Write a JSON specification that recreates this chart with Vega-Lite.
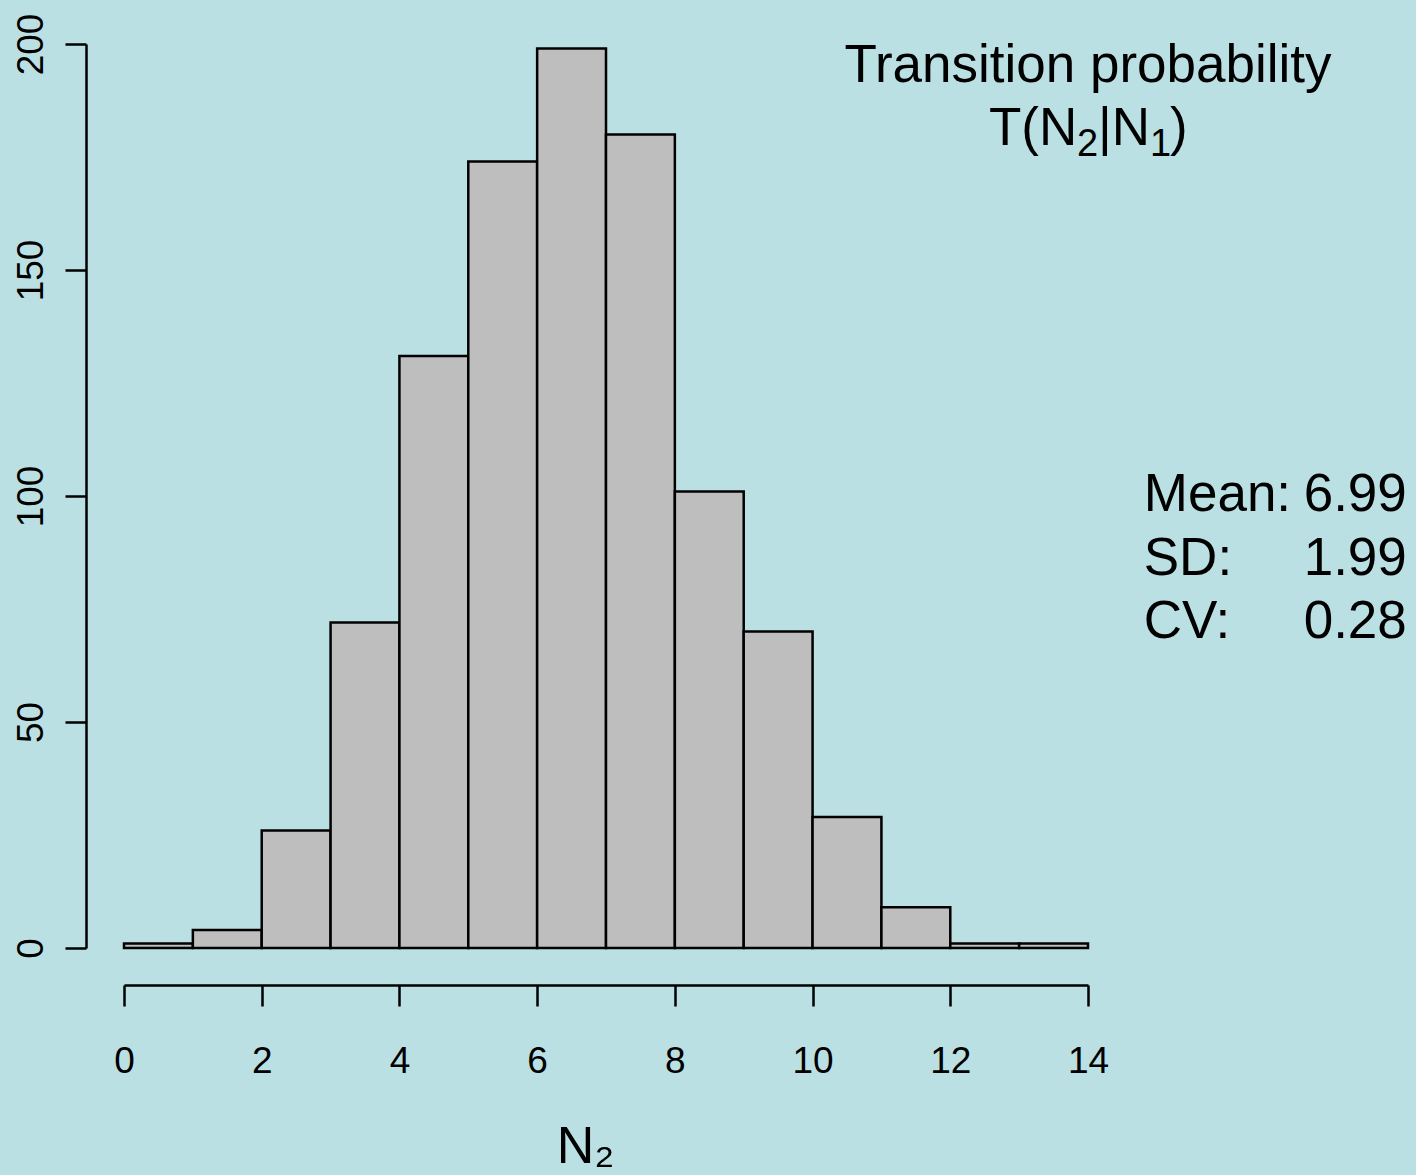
{
  "$schema": "https://vega.github.io/schema/vega-lite/v6.json",
  "width": 964,
  "height": 904,
  "autosize": "none",
  "padding": {"left": 124, "top": 44, "right": 328, "bottom": 227},
  "background": "#BAE0E4",
  "config": {
    "view": {"stroke": null},
    "font": "Liberation Sans",
    "axis": {
      "grid": false,
      "domainColor": "black",
      "domainWidth": 2.5,
      "tickColor": "black",
      "tickWidth": 2.5,
      "tickSize": 21,
      "labelColor": "black",
      "labelFont": "Liberation Sans",
      "labelFontSize": 37,
      "labelOverlap": false,
      "labelFlush": false,
      "titleColor": "black",
      "titleFont": "Liberation Sans",
      "titleFontWeight": "normal"
    },
    "text": {"font": "Liberation Sans", "color": "black"}
  },
  "datasets": {
    "bins": [
      {"lo": 0, "hi": 1, "count": 1},
      {"lo": 1, "hi": 2, "count": 4},
      {"lo": 2, "hi": 3, "count": 26},
      {"lo": 3, "hi": 4, "count": 72},
      {"lo": 4, "hi": 5, "count": 131},
      {"lo": 5, "hi": 6, "count": 174},
      {"lo": 6, "hi": 7, "count": 199},
      {"lo": 7, "hi": 8, "count": 180},
      {"lo": 8, "hi": 9, "count": 101},
      {"lo": 9, "hi": 10, "count": 70},
      {"lo": 10, "hi": 11, "count": 29},
      {"lo": 11, "hi": 12, "count": 9},
      {"lo": 12, "hi": 13, "count": 1},
      {"lo": 13, "hi": 14, "count": 1}
    ],
    "heading": [
      {"part": "title", "text": "Transition probability"},
      {"part": "a", "text": "T(N"},
      {"part": "sub2", "text": "2"},
      {"part": "b", "text": "|N"},
      {"part": "sub1", "text": "1"},
      {"part": "c", "text": ")"}
    ],
    "stats": [
      {"stat": "Mean:", "value": "6.99"},
      {"stat": "SD:", "value": "1.99"},
      {"stat": "CV:", "value": "0.28"}
    ]
  },
  "layer": [
    {
      "data": {"name": "bins"},
      "mark": {"type": "rect", "fill": "#BEBEBE", "stroke": "black", "strokeWidth": 2.5},
      "encoding": {
        "x": {
          "field": "lo",
          "type": "quantitative",
          "scale": {"domain": [0, 14], "nice": false, "zero": false},
          "axis": {
            "offset": 37,
            "values": [0, 2, 4, 6, 8, 10, 12, 14],
            "format": "d",
            "labelBaseline": "alphabetic",
            "labelPadding": 66,
            "title": "N₂",
            "titleFontSize": 52,
            "titleX": 461,
            "titleY": 177,
            "titleAlign": "center",
            "titleBaseline": "alphabetic"
          }
        },
        "x2": {"field": "hi"},
        "y": {
          "field": "count",
          "type": "quantitative",
          "scale": {"domain": [0, 200], "nice": false},
          "axis": {
            "offset": 38,
            "values": [0, 50, 100, 150, 200],
            "labelAngle": 270,
            "labelAlign": "center",
            "labelBaseline": "alphabetic",
            "labelPadding": 23,
            "title": null
          }
        },
        "y2": {"datum": 0}
      }
    },
    {
      "data": {"name": "heading"},
      "transform": [{"filter": "datum.part == 'title'"}],
      "mark": {"type": "text", "fontSize": 53, "align": "center", "baseline": "alphabetic"},
      "encoding": {"x": {"datum": 14}, "y": {"datum": 191.6}, "text": {"field": "text"}}
    },
    {
      "data": {"name": "heading"},
      "transform": [{"filter": "datum.part == 'a'"}],
      "mark": {"type": "text", "fontSize": 53, "align": "left", "baseline": "alphabetic", "dx": -99},
      "encoding": {"x": {"datum": 14}, "y": {"datum": 177.7}, "text": {"field": "text"}}
    },
    {
      "data": {"name": "heading"},
      "transform": [{"filter": "datum.part == 'sub2'"}],
      "mark": {"type": "text", "fontSize": 38, "align": "left", "baseline": "alphabetic", "dx": -11, "dy": 11},
      "encoding": {"x": {"datum": 14}, "y": {"datum": 177.7}, "text": {"field": "text"}}
    },
    {
      "data": {"name": "heading"},
      "transform": [{"filter": "datum.part == 'b'"}],
      "mark": {"type": "text", "fontSize": 53, "align": "left", "baseline": "alphabetic", "dx": 10},
      "encoding": {"x": {"datum": 14}, "y": {"datum": 177.7}, "text": {"field": "text"}}
    },
    {
      "data": {"name": "heading"},
      "transform": [{"filter": "datum.part == 'sub1'"}],
      "mark": {"type": "text", "fontSize": 38, "align": "left", "baseline": "alphabetic", "dx": 62, "dy": 11},
      "encoding": {"x": {"datum": 14}, "y": {"datum": 177.7}, "text": {"field": "text"}}
    },
    {
      "data": {"name": "heading"},
      "transform": [{"filter": "datum.part == 'c'"}],
      "mark": {"type": "text", "fontSize": 53, "align": "left", "baseline": "alphabetic", "dx": 82},
      "encoding": {"x": {"datum": 14}, "y": {"datum": 177.7}, "text": {"field": "text"}}
    },
    {
      "data": {"name": "stats"},
      "transform": [{"filter": "datum.stat == 'Mean:'"}],
      "mark": {"type": "text", "fontSize": 53, "align": "left", "baseline": "alphabetic"},
      "encoding": {"x": {"datum": 14.81}, "y": {"datum": 96.6}, "text": {"field": "stat"}}
    },
    {
      "data": {"name": "stats"},
      "transform": [{"filter": "datum.stat == 'Mean:'"}],
      "mark": {"type": "text", "fontSize": 53, "align": "right", "baseline": "alphabetic"},
      "encoding": {"x": {"datum": 18.63}, "y": {"datum": 96.6}, "text": {"field": "value"}}
    },
    {
      "data": {"name": "stats"},
      "transform": [{"filter": "datum.stat == 'SD:'"}],
      "mark": {"type": "text", "fontSize": 53, "align": "left", "baseline": "alphabetic"},
      "encoding": {"x": {"datum": 14.81}, "y": {"datum": 82.6}, "text": {"field": "stat"}}
    },
    {
      "data": {"name": "stats"},
      "transform": [{"filter": "datum.stat == 'SD:'"}],
      "mark": {"type": "text", "fontSize": 53, "align": "right", "baseline": "alphabetic"},
      "encoding": {"x": {"datum": 18.63}, "y": {"datum": 82.6}, "text": {"field": "value"}}
    },
    {
      "data": {"name": "stats"},
      "transform": [{"filter": "datum.stat == 'CV:'"}],
      "mark": {"type": "text", "fontSize": 53, "align": "left", "baseline": "alphabetic"},
      "encoding": {"x": {"datum": 14.81}, "y": {"datum": 68.6}, "text": {"field": "stat"}}
    },
    {
      "data": {"name": "stats"},
      "transform": [{"filter": "datum.stat == 'CV:'"}],
      "mark": {"type": "text", "fontSize": 53, "align": "right", "baseline": "alphabetic"},
      "encoding": {"x": {"datum": 18.63}, "y": {"datum": 68.6}, "text": {"field": "value"}}
    }
  ]
}
